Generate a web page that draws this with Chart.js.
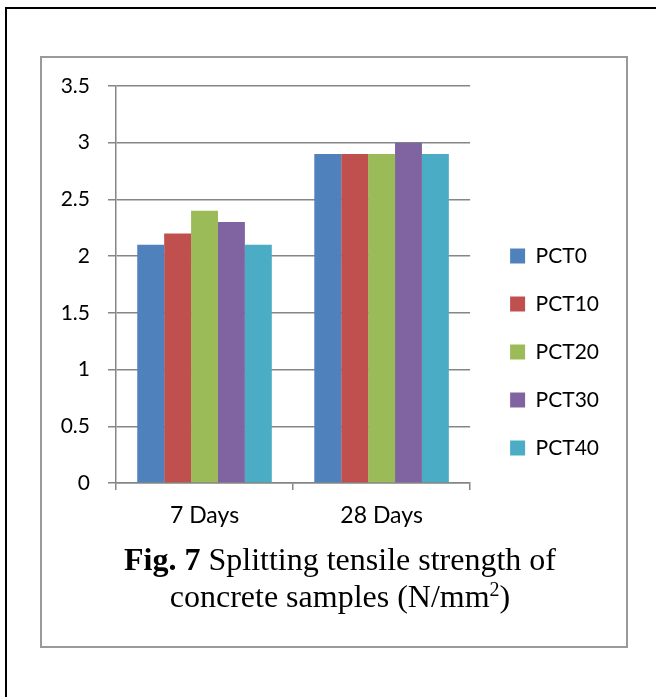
<!DOCTYPE html>
<html>
<head>
<meta charset="utf-8">
<script src="https://cdn.jsdelivr.net/npm/chart.js@4.4.1/dist/chart.umd.min.js"></script>
<style>
  html, body { margin: 0; padding: 0; background: #fff; }
  body { width: 656px; height: 697px; position: relative; overflow: hidden; }
  #frame { position: absolute; left: 5px; top: 7px; right: -10px; bottom: -10px; border-left: 2.5px solid #000; border-top: 2.5px solid #000; }
  #box { position: absolute; left: 40px; top: 56px; width: 584px; height: 588px; border: 2px solid #9a9a9a; }
  #chart { position: absolute; left: 0; top: 0; }
  #caption { position: absolute; left: 40px; width: 600px; top: 541px; text-align: center; white-space: nowrap;
             font-family: 'Liberation Serif', serif; font-size: 32px; line-height: 37px; color: #000; }
  #caption sup { font-size: 20px; line-height: 0; vertical-align: 11px; }
</style>
</head>
<body>
<div id="frame"></div>
<div id="box"></div>
<canvas id="chart" width="656" height="697"></canvas>
<div id="caption"><b>Fig. 7</b> Splitting tensile strength of<br>concrete samples (N/mm<sup>2</sup>)</div>

<script>
// Data
const categories = ['7 Days', '28 Days'];
const seriesNames = ['PCT0', 'PCT10', 'PCT20', 'PCT30', 'PCT40'];
const pct0 = [2.1, 2.9];
const pct10 = [2.2, 2.9];
const pct20 = [2.4, 2.9];
const pct30 = [2.3, 3.0];
const pct40 = [2.1, 2.9];
const yMin = 0;
const yMax = 3.5;
const yStep = 0.5;

// Styles
const seriesColors = ['#4F81BD', '#C0504D', '#9BBB59', '#8064A2', '#4BACC6'];
const axisGray = '#868686';
const LEGEND_GAP = 13; // space between plot and legend squares

const seriesValues = [pct0, pct10, pct20, pct30, pct40];

// shift legend right a bit (Chart.js puts it flush against the plot)
const legendShift = {
    id: 'legendShift',
    afterLayout(chart) {
        chart.legend.left += LEGEND_GAP;
        chart.legend.right += LEGEND_GAP;
    }
};

const ctx = document.getElementById('chart').getContext('2d');
const chart = new Chart(ctx, {
    type: 'bar',
    data: {
        labels: categories,
        datasets: seriesNames.map((name, i) => ({
            label: name,
            data: seriesValues[i],
            backgroundColor: seriesColors[i],
            borderWidth: 0,
            categoryPercentage: 0.76,
            barPercentage: 1
        }))
    },
    options: {
        responsive: false,
        animation: false,
        devicePixelRatio: 1,
        layout: { padding: { left: 40, top: 86, right: 60, bottom: 79 } },
        plugins: {
            legend: {
                position: 'right',
                align: 'center',
                labels: {
                    boxWidth: 15,
                    boxHeight: 15,
                    padding: 27,
                    color: '#000',
                    font: { family: 'Lato', size: 21 }
                }
            },
            tooltip: { enabled: false }
        },
        scales: {
            x: {
                grid: { drawOnChartArea: false, drawTicks: true, tickLength: 7, color: axisGray, lineWidth: 1.5, offset: true },
                border: { color: axisGray, width: 1.5 },
                ticks: { color: '#000', font: { family: 'Lato', size: 23 }, padding: 12 },
                afterFit: (s) => { s.height = 135; }
            },
            y: {
                min: yMin,
                max: yMax,
                ticks: {
                    stepSize: yStep,
                    color: '#000',
                    font: { family: 'Lato', size: 21 },
                    padding: 18,
                    callback: (v) => String(v)
                },
                grid: { color: axisGray, lineWidth: 1.5, tickLength: 8 },
                border: { color: axisGray, width: 1.5 },
                afterFit: (s) => { s.width = 76; }
            }
        }
    },
    plugins: [legendShift]
});
</script>
</body>
</html>
